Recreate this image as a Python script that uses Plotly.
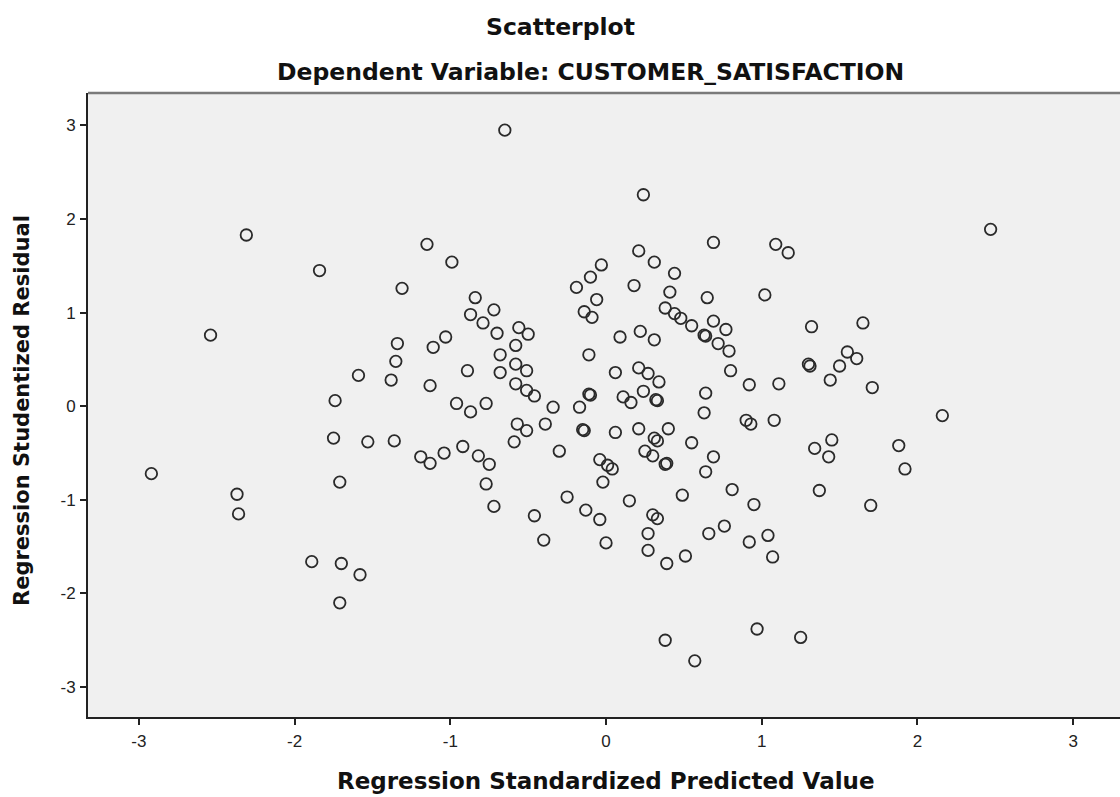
import plotly.graph_objects as go

pred_x = [-0.65, 0.24, -2.31, 2.47, -1.15, 0.69, 1.09, 1.17, -1.84, -0.99,
          -0.03, -0.10, -0.19, -0.06, -0.14, -0.09, 0.21, 0.31, 0.44, 0.18,
          0.41, 0.65, 1.02, 0.38, 0.44, 0.48, 0.55, 0.63, 0.64, 0.69,
          0.77, 0.72, 0.79, 0.80, 0.92, 0.64, 0.63, 0.09, 0.22, 0.31,
          -0.11, 0.06, 0.21, 0.27, 0.34, 0.24, 0.32, 0.33, 0.11, 0.16,
          -0.11, -0.10, -0.17, -0.34, -0.84, -0.87, -0.72, -0.79, -0.70, -0.56,
          -0.50, -0.58, -0.68, -0.68, -0.89, -0.58, -0.51, -0.58, -0.51, -0.46,
          -1.03, -1.11, -1.13, -0.96, -0.77, -0.87, -1.31, -2.54, -1.34, -1.35,
          -1.59, -1.38, -1.74, 1.32, 1.65, 1.55, 1.61, 1.30, 1.31, 1.50,
          1.44, 1.11, 1.71, 2.16, 1.08, 1.45, 1.34, 1.43, 1.88, 1.92,
          1.37, 1.70, 1.04, 1.07, 1.25, 0.90, 0.93, -0.57, -0.51, -0.39,
          -0.59, -0.15, -0.14, 0.06, 0.21, 0.40, 0.31, 0.33, 0.25, 0.30,
          0.38, 0.39, 0.55, 0.69, 0.64, 0.81, 0.49, 0.95, 0.76, 0.66,
          0.92, 0.51, 0.39, 0.27, 0.27, 0.30, 0.33, 0.15, -0.04, 0.00,
          -0.13, -0.25, -0.46, -0.40, -0.04, 0.01, 0.04, -0.02, -0.30, -0.92,
          -1.04, -1.13, -0.82, -0.75, -0.77, -0.72, 0.38, 0.57, 0.97, -1.75,
          -1.53, -1.36, -1.19, -2.92, -1.71, -2.37, -2.36, -1.89, -1.70, -1.58,
          -1.71]

resid_y = [2.95, 2.26, 1.83, 1.89, 1.73, 1.75, 1.73, 1.64, 1.45, 1.54,
           1.51, 1.38, 1.27, 1.14, 1.01, 0.95, 1.66, 1.54, 1.42, 1.29,
           1.22, 1.16, 1.19, 1.05, 0.99, 0.94, 0.86, 0.76, 0.75, 0.91,
           0.82, 0.67, 0.59, 0.38, 0.23, 0.14, -0.07, 0.74, 0.80, 0.71,
           0.55, 0.36, 0.41, 0.35, 0.26, 0.16, 0.07, 0.06, 0.10, 0.04,
           0.13, 0.12, -0.01, -0.01, 1.16, 0.98, 1.03, 0.89, 0.78, 0.84,
           0.77, 0.65, 0.55, 0.36, 0.38, 0.45, 0.38, 0.24, 0.17, 0.11,
           0.74, 0.63, 0.22, 0.03, 0.03, -0.06, 1.26, 0.76, 0.67, 0.48,
           0.33, 0.28, 0.06, 0.85, 0.89, 0.58, 0.51, 0.45, 0.43, 0.43,
           0.28, 0.24, 0.20, -0.10, -0.15, -0.36, -0.45, -0.54, -0.42, -0.67,
           -0.90, -1.06, -1.38, -1.61, -2.47, -0.15, -0.19, -0.19, -0.26, -0.19,
           -0.38, -0.25, -0.26, -0.28, -0.24, -0.24, -0.34, -0.37, -0.48, -0.53,
           -0.62, -0.61, -0.39, -0.54, -0.70, -0.89, -0.95, -1.05, -1.28, -1.36,
           -1.45, -1.60, -1.68, -1.36, -1.54, -1.16, -1.20, -1.01, -1.21, -1.46,
           -1.11, -0.97, -1.17, -1.43, -0.57, -0.63, -0.67, -0.81, -0.48, -0.43,
           -0.50, -0.61, -0.53, -0.62, -0.83, -1.07, -2.50, -2.72, -2.38, -0.34,
           -0.38, -0.37, -0.54, -0.72, -0.81, -0.94, -1.15, -1.66, -1.68, -1.80,
           -2.10]

tick_vals = [-3, -2, -1, 0, 1, 2, 3]
tick_text = ["-3", "-2", "-1", "0", "1", "2", "3"]

TICK_FONT = "Liberation Sans, Arial, sans-serif"
TITLE_FONT = "DejaVu Sans, Verdana, sans-serif"

fig = go.Figure()
fig.add_trace(go.Scatter(
    x=pred_x, y=resid_y, mode="markers",
    marker=dict(symbol="circle-open", size=11.5, color="#2a2a2a",
                line=dict(width=1.8, color="#2a2a2a")),
    hoverinfo="x+y", showlegend=False,
))

axis_common = dict(
    tickvals=tick_vals, ticktext=tick_text,
    showgrid=False, zeroline=False, showline=True,
    linecolor="#222", linewidth=2, ticks="outside", ticklen=6,
    tickwidth=1.5, tickcolor="#222",
    tickfont=dict(size=17, family=TICK_FONT, color="#222"),
)

fig.update_layout(
    width=1120, height=797,
    margin=dict(l=88, r=0, t=93, b=80),
    paper_bgcolor="white",
    plot_bgcolor="#f0f0f0",
    font=dict(family=TICK_FONT, color="#111"),
    xaxis=dict(range=[-3.327, 3.301], ticklabelstandoff=2, **axis_common),
    yaxis=dict(range=[-3.32, 3.347], ticklabelstandoff=1, **axis_common),
    shapes=[dict(type="line", xref="paper", yref="paper", x0=0, x1=1, y0=1, y1=1,
                 line=dict(color="#7a7a7a", width=2.5))],
    annotations=[
        dict(text="Scatterplot", xref="paper", yref="paper", x=0.458, y=1.106,
             showarrow=False, xanchor="center", yanchor="middle",
             font=dict(size=23.5, family=TITLE_FONT, weight="bold", color="#111")),
        dict(text="Dependent Variable: CUSTOMER_SATISFACTION", xref="paper", yref="paper",
             x=0.4874, y=1.034, showarrow=False, xanchor="center", yanchor="middle",
             font=dict(size=23.5, family=TITLE_FONT, weight="bold", color="#111")),
        dict(text="Regression Standardized Predicted Value", xref="paper", yref="paper",
             x=0.5015, y=-0.1026, showarrow=False, xanchor="center", yanchor="middle",
             font=dict(size=23, family=TITLE_FONT, weight="bold", color="#111")),
        dict(text="Regression Studentized Residual", xref="paper", yref="paper",
             x=-0.064, y=0.492, showarrow=False, xanchor="center", yanchor="middle",
             textangle=-90,
             font=dict(size=21, family=TITLE_FONT, weight="bold", color="#111")),
    ],
)

fig.write_html("out.html",
               config={"displayModeBar": False},
               post_script="document.body.style.margin='0';document.body.style.overflow='hidden';")
